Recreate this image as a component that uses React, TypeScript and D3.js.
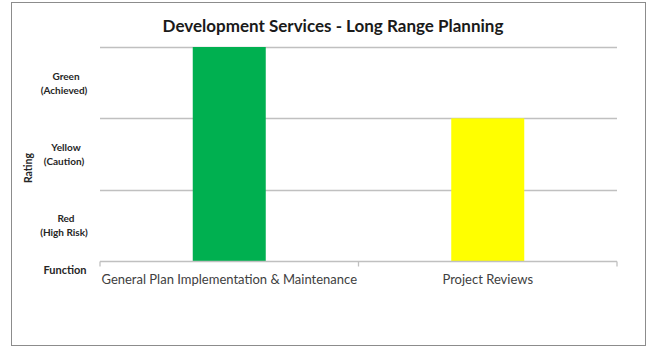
import React, { useEffect, useRef } from 'react';
import * as d3 from 'd3';

const functions = ['General Plan Implementation & Maintenance', 'Project Reviews'];
const ratings = [3, 2];
const barColors = ['#00b050', '#ffff00'];
const ratingNames = ['Red', 'Yellow', 'Green'];
const ratingNotes = ['(High Risk)', '(Caution)', '(Achieved)'];
const gridValues = [1, 2, 3];

function App() {
  const ref = useRef<SVGSVGElement>(null);

  useEffect(() => {
    const width = 655;
    const height = 347;
    const margin = { top: 47, right: 38, bottom: 86, left: 100 };
    const font = 'Lato, "Open Sans", sans-serif';

    const svg = d3.select(ref.current);
    svg.selectAll('*').remove();
    svg.attr('width', width).attr('height', height);

    svg.append('rect')
      .attr('x', 11.5).attr('y', 2.5)
      .attr('width', 634).attr('height', 343)
      .attr('fill', '#fff')
      .attr('stroke', '#8c8c8c');

    const x = d3.scaleBand()
      .domain(functions)
      .range([margin.left, width - margin.right])
      .paddingInner(0.7176)
      .paddingOuter(0.3588);

    const y = d3.scaleLinear()
      .domain([0, 3])
      .range([height - margin.bottom, margin.top]);

    // gridlines
    svg.append('g')
      .selectAll('line')
      .data(gridValues)
      .enter()
      .append('line')
      .attr('x1', margin.left)
      .attr('x2', width - margin.right)
      .attr('y1', d => Math.round(y(d)) + 0.5)
      .attr('y2', d => Math.round(y(d)) + 0.5)
      .attr('stroke', '#c0c0c0')
      .attr('stroke-width', 1.3);

    svg.append('g')
      .selectAll('rect')
      .data(ratings)
      .enter()
      .append('rect')
      .attr('x', (d, i) => x(functions[i]) as number)
      .attr('y', d => y(d))
      .attr('width', x.bandwidth())
      .attr('height', d => y(0) - y(d))
      .attr('fill', (d, i) => barColors[i]);

    // x axis
    const xAxis = svg.append('g')
      .attr('transform', `translate(0,${Math.round(y(0)) + 0.5})`);
    xAxis.append('line')
      .attr('x1', margin.left).attr('x2', width - margin.right)
      .attr('stroke', '#c0c0c0').attr('stroke-width', 1.3);
    const step = x.step();
    const tickXs = d3.range(functions.length + 1).map(i => margin.left + i * step);
    xAxis.selectAll('line.tick')
      .data(tickXs)
      .enter()
      .append('line')
      .attr('class', 'tick')
      .attr('x1', d => d).attr('x2', d => d)
      .attr('y1', 0).attr('y2', 5)
      .attr('stroke', '#c0c0c0').attr('stroke-width', 1.3);
    xAxis.selectAll('text')
      .data(functions)
      .enter()
      .append('text')
      .attr('x', d => (x(d) as number) + x.bandwidth() / 2)
      .attr('y', 22)
      .attr('text-anchor', 'middle')
      .attr('font-family', font)
      .attr('font-size', 13)
      .attr('fill', '#404040')
      .text(d => d);

    // rating labels between gridlines
    const labels = svg.append('g');
    ratingNames.forEach((name, i) => {
      const cy = (y(i) + y(i + 1)) / 2;
      const t = labels.append('text')
        .attr('text-anchor', 'middle')
        .attr('font-family', font)
        .attr('font-size', 10)
        .attr('font-weight', 'bold')
        .attr('fill', '#262626');
      t.append('tspan').attr('x', 66).attr('y', cy - 3).text(name);
      t.append('tspan').attr('x', 64).attr('y', cy + 11).text(ratingNotes[i]);
    });

    svg.append('text')
      .attr('transform', `translate(32,${(y(0) + y(3)) / 2 + 14}) rotate(-90)`)
      .attr('text-anchor', 'middle')
      .attr('font-family', font)
      .attr('font-size', 10.5)
      .attr('font-weight', 'bold')
      .attr('fill', '#262626')
      .text('Rating');

    svg.append('text')
      .attr('x', 65).attr('y', 274)
      .attr('text-anchor', 'middle')
      .attr('font-family', font)
      .attr('font-size', 11)
      .attr('font-weight', 'bold')
      .attr('fill', '#262626')
      .text('Function');

    svg.append('text')
      .attr('x', 333).attr('y', 32)
      .attr('text-anchor', 'middle')
      .attr('font-family', font)
      .attr('font-size', 17)
      .attr('font-weight', 'bold')
      .attr('fill', '#1a1a1a')
      .text('Development Services - Long Range Planning');
  }, []);

  return (
    <div style={{ position: 'absolute', left: 0, top: 0 }}>
      <svg ref={ref}></svg>
    </div>
  );
}

export default App;
